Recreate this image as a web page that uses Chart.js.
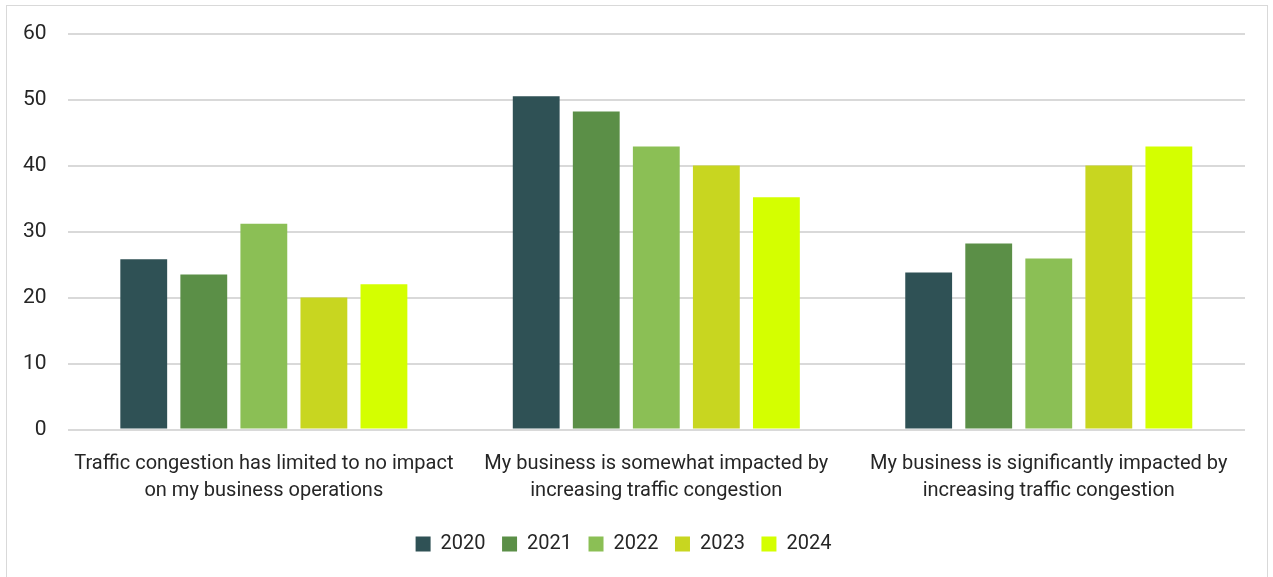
<!DOCTYPE html>
<html><head><meta charset="utf-8">
<script src="https://cdn.jsdelivr.net/npm/chart.js@4/dist/chart.umd.min.js"></script>
<style>
html,body{margin:0;padding:0;background:#fff;overflow:hidden;}
#wrap{position:absolute;left:6px;top:5px;width:1262px;height:580px;border:1px solid #d9d9d9;box-sizing:border-box;}
#c{position:absolute;left:0;top:0;}
</style></head><body>
<div id="wrap"></div>
<canvas id="c" width="1273" height="577"></canvas>
<script>
const categories = [
  ["Traffic congestion has limited to no impact","on my business operations"],
  ["My business is somewhat impacted by","increasing traffic congestion"],
  ["My business is significantly impacted by","increasing traffic congestion"]
];
const years = ["2020","2021","2022","2023","2024"];
const v2020 = [25.8, 50.5, 23.8];
const v2021 = [23.5, 48.2, 28.2];
const v2022 = [31.2, 42.9, 25.9];
const v2023 = [20.0, 40.0, 40.0];
const v2024 = [22.0, 35.2, 42.9];
const colors = ["#2F5155","#5B8F47","#8BBF55","#C8D620","#D4FF00"];
const series = [v2020, v2021, v2022, v2023, v2024];
const font = "Roboto, sans-serif";
new Chart(document.getElementById('c'), {
  type: 'bar',
  data: {
    labels: categories,
    datasets: series.map((s,i)=>({label: years[i], data: s, backgroundColor: colors[i], borderWidth: 0}))
  },
  options: {
    responsive: false,
    animation: false,
    layout: {padding: {left: 2, right: 28, top: 21, bottom: 13}},
    categoryPercentage: 0.765,
    barPercentage: 0.78,
    scales: {
      x: {
        grid: {display: false},
        border: {display: false},
        ticks: {color: '#262626', font: {family: font, size: 20, lineHeight: 1.35}, padding: 13, maxRotation: 0, autoSkip: false}
      },
      y: {
        min: 0, max: 60,
        ticks: {stepSize: 10, color: '#262626', font: {family: font, size: 21}, padding: 21},
        grid: {color: '#d9d9d9', lineWidth: 2, drawTicks: false},
        border: {display: false}
      }
    },
    plugins: {
      legend: {
        position: 'bottom',
        labels: {color: '#262626', font: {family: font, size: 20}, boxWidth: 15, boxHeight: 15, padding: 16.5}
      },
      tooltip: {enabled: false}
    }
  }
});
</script>
</body></html>
